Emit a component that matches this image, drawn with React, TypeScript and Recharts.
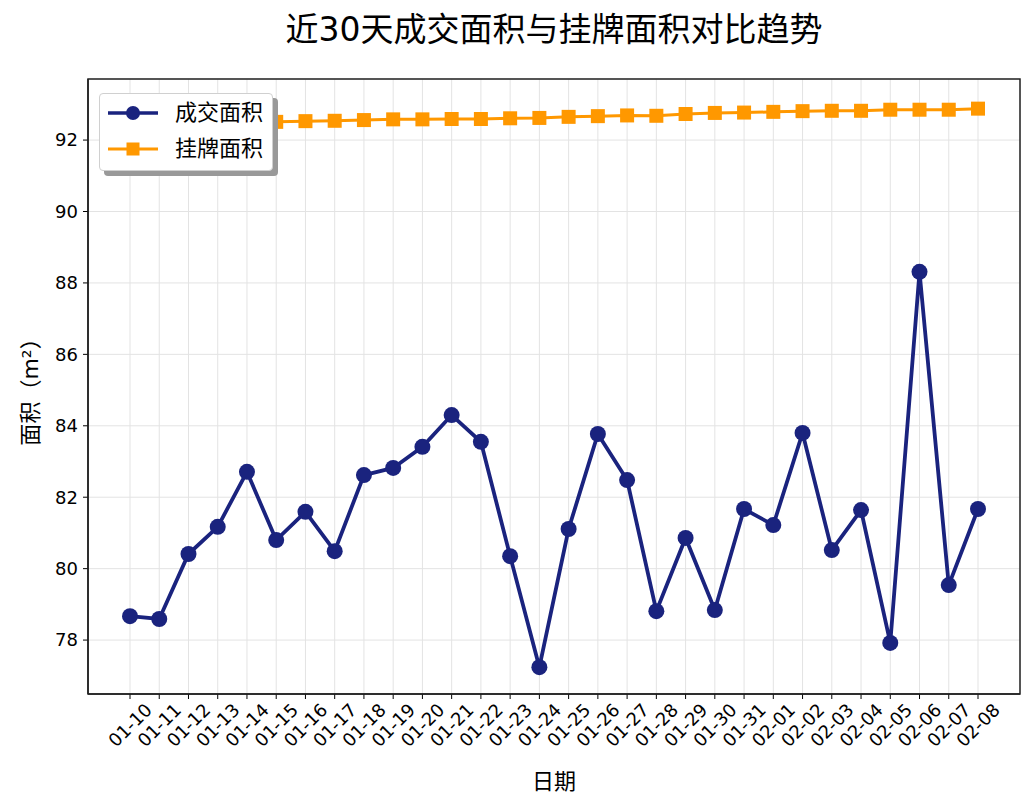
import React from 'react';
import { LineChart, Line, XAxis, YAxis, CartesianGrid } from 'recharts';

const dates = [
  '01-10', '01-11', '01-12', '01-13', '01-14', '01-15', '01-16', '01-17', '01-18', '01-19',
  '01-20', '01-21', '01-22', '01-23', '01-24', '01-25', '01-26', '01-27', '01-28', '01-29',
  '01-30', '01-31', '02-01', '02-02', '02-03', '02-04', '02-05', '02-06', '02-07', '02-08',
];

const dealArea = [
  78.67, 78.59, 80.41, 81.17, 82.71, 80.8, 81.59, 80.49, 82.62, 82.82,
  83.41, 84.3, 83.55, 80.35, 77.24, 81.11, 83.77, 82.48, 78.81, 80.86,
  78.84, 81.67, 81.22, 83.8, 80.52, 81.64, 77.92, 88.31, 79.54, 81.67,
];

const listingArea = [
  92.4, 92.43, 92.45, 92.47, 92.49, 92.51, 92.53, 92.54, 92.56, 92.58,
  92.58, 92.59, 92.59, 92.61, 92.62, 92.65, 92.67, 92.69, 92.68, 92.73,
  92.76, 92.77, 92.79, 92.81, 92.82, 92.82, 92.85, 92.85, 92.85, 92.88,
];

const yTicks = [78, 80, 82, 84, 86, 88, 90, 92];

const data = dates.map((d, i) => ({ date: d, deal: dealArea[i], listing: listingArea[i] }));

const FONT = '"DejaVu Sans", "Noto Sans CJK SC", sans-serif';
const NAVY = '#1a237e';
const ORANGE = '#ff9800';

const SquareDot = (props: any) => {
  const { cx, cy } = props;
  if (cx == null || cy == null) return null;
  return <rect x={cx - 7} y={cy - 7} width={14} height={14} fill={ORANGE} />;
};

const XTick = (props: any) => {
  const { x, y, payload } = props;
  return (
    <g transform={`translate(${x},${y + 24})`}>
      <text
        transform="rotate(-45)"
        textAnchor="middle"
        dominantBaseline="central"
        fontSize={18}
        fontFamily={FONT}
        fill="#000"
      >
        {payload.value}
      </text>
    </g>
  );
};

const legendItems = [
  { name: '成交面积', color: NAVY, w: 3.5, marker: 'circle' },
  { name: '挂牌面积', color: ORANGE, w: 3, marker: 'square' },
];

const LegendBox = () => (
  <div
    style={{
      position: 'absolute',
      left: 99,
      top: 93,
      width: 172,
      height: 76,
      background: '#fff',
      border: '1px solid #d0d0d0',
      borderRadius: 4,
      boxShadow: '5px 5px 0 #999',
      fontFamily: FONT,
      fontSize: 22,
      color: '#000',
    }}
  >
    {legendItems.map((it, i) => (
      <div
        key={it.name}
        style={{ position: 'absolute', left: 0, top: 4 + i * 36, height: 30, display: 'flex', alignItems: 'center' }}
      >
        <svg width={66} height={30}>
          <line x1={8} x2={58} y1={15} y2={15} stroke={it.color} strokeWidth={it.w} />
          {it.marker === 'circle' ? (
            <circle cx={33} cy={15} r={7} fill={it.color} />
          ) : (
            <rect x={26.5} y={8.5} width={13} height={13} fill={it.color} />
          )}
        </svg>
        <span style={{ marginLeft: 9, lineHeight: '30px' }}>{it.name}</span>
      </div>
    ))}
  </div>
);

export default function App() {
  return (
    <div style={{ position: 'absolute', left: 0, top: 0, width: 1035, height: 810, background: '#fff' }}>
      <div
        style={{
          position: 'absolute',
          left: 88,
          width: 932,
          top: 8,
          textAlign: 'center',
          fontFamily: FONT,
          fontSize: 33,
          color: '#000',
          lineHeight: '44px',
        }}
      >
        近30天成交面积与挂牌面积对比趋势
      </div>
      <LineChart width={1035} height={810} data={data} margin={{ top: 79, right: 15, left: 0, bottom: 0 }}>
        <CartesianGrid stroke="#e3e3e3" strokeWidth={1} />
        <XAxis
          dataKey="date"
          interval={0}
          padding={{ left: 42, right: 42 }}
          height={116}
          tick={<XTick />}
          tickSize={5}
          tickLine={{ stroke: '#000', strokeWidth: 1 }}
          axisLine={{ stroke: '#222', strokeWidth: 1.5 }}
          label={(p: any) => {
            const vb = p.viewBox;
            return (
              <text
                x={vb.x + vb.width / 2}
                y={781}
                textAnchor="middle"
                dominantBaseline="central"
                fontSize={22}
                fontFamily={FONT}
                fill="#000"
              >
                日期
              </text>
            );
          }}
        />
        <YAxis
          width={88}
          domain={[76.49, 93.71]}
          ticks={yTicks}
          allowDataOverflow
          tickSize={5}
          tickMargin={5}
          tick={{ fontSize: 18, fontFamily: FONT, fill: '#000' }}
          tickLine={{ stroke: '#000', strokeWidth: 1 }}
          axisLine={{ stroke: '#222', strokeWidth: 1.5 }}
          label={(p: any) => {
            const vb = p.viewBox;
            const cx = 30;
            const cy = vb.y + vb.height / 2;
            return (
              <text
                x={cx}
                y={cy}
                transform={`rotate(-90, ${cx}, ${cy})`}
                textAnchor="middle"
                dominantBaseline="central"
                fontSize={22}
                fontFamily={FONT}
                fill="#000"
              >
                面积（m²）
              </text>
            );
          }}
        />
        <Line
          type="linear"
          dataKey="deal"
          name="成交面积"
          stroke={NAVY}
          strokeWidth={3.8}
          dot={{ r: 8, fill: NAVY, stroke: NAVY, strokeWidth: 0 }}
          activeDot={false}
          isAnimationActive={false}
        />
        <Line
          type="linear"
          dataKey="listing"
          name="挂牌面积"
          stroke={ORANGE}
          strokeWidth={3}
          dot={<SquareDot />}
          activeDot={false}
          isAnimationActive={false}
        />
      </LineChart>
      <svg
        width={1035}
        height={810}
        style={{ position: 'absolute', left: 0, top: 0, pointerEvents: 'none' }}
      >
        <rect x={88} y={79} width={932} height={615} fill="none" stroke="#222" strokeWidth={1.5} />
      </svg>
      <LegendBox />
    </div>
  );
}
